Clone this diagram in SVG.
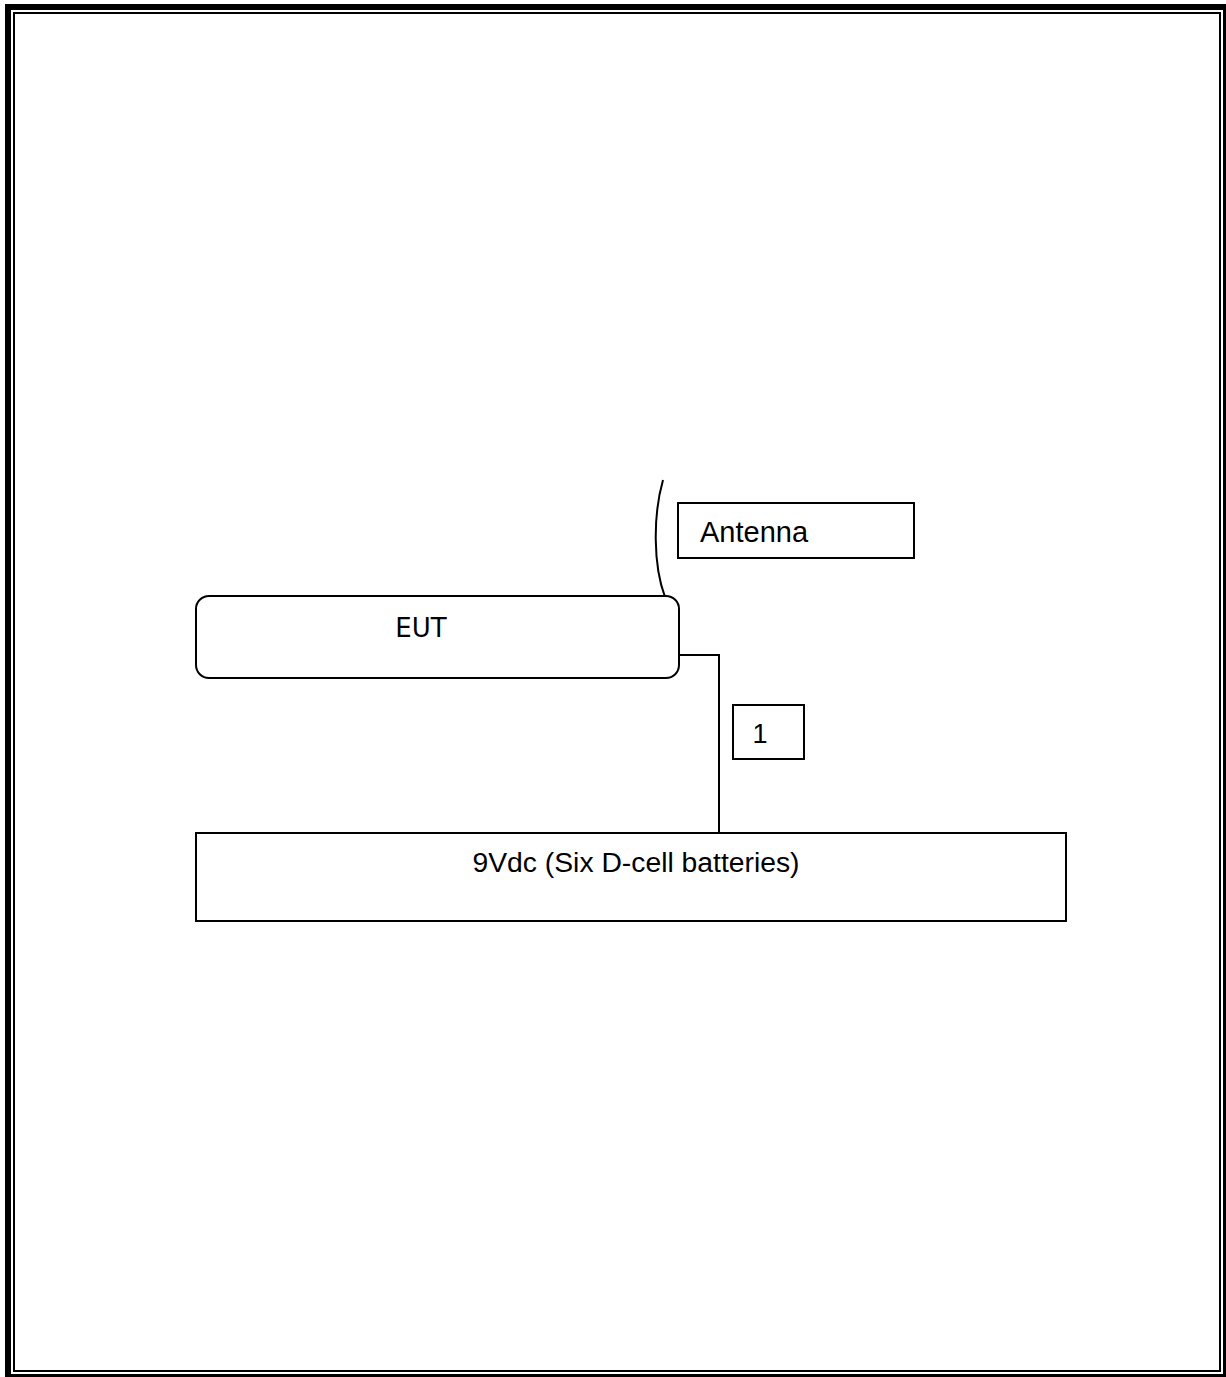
<svg xmlns="http://www.w3.org/2000/svg" width="1226" height="1377" viewBox="0 0 1226 1377">
<style>
.box{fill:#fff;stroke:#000;stroke-width:2}
.wire{fill:none;stroke:#000;stroke-width:2}
.t{font-family:"Liberation Sans",Arial,sans-serif;font-size:27px;fill:#000}
</style>
<rect width="1226" height="1377" fill="#fff"/>
<g id="frame">
<rect x="8" y="7" width="1218" height="1370" fill="none" stroke="#000" stroke-width="6"/>
<rect x="14" y="13" width="1206" height="1358" fill="none" stroke="#000" stroke-width="2"/>
</g>
<g id="connectors">
<path class="wire" d="M665 597 C653 565 653 515 663 480"/>
<path class="wire" d="M679 655 H719 V832"/>
</g>
<g id="antenna">
<rect class="box" x="678" y="503" width="236" height="55"/>
<text class="t" x="700" y="542" style="font-size:29px">Antenna</text>
</g>
<g id="eut">
<rect class="box" x="196" y="596" width="483" height="82" rx="13"/>
<text class="t" x="421" y="637" text-anchor="middle" style="font-family:'DejaVu Sans','Liberation Sans',sans-serif;font-size:26px">EUT</text>
</g>
<g id="cable1">
<rect class="box" x="733" y="705" width="71" height="54"/>
<text class="t" x="760" y="743" text-anchor="middle">1</text>
</g>
<g id="battery">
<rect class="box" x="196" y="833" width="870" height="88"/>
<text class="t" x="636" y="872" text-anchor="middle" textLength="327" lengthAdjust="spacingAndGlyphs">9Vdc (Six D-cell batteries)</text>
</g>
</svg>
